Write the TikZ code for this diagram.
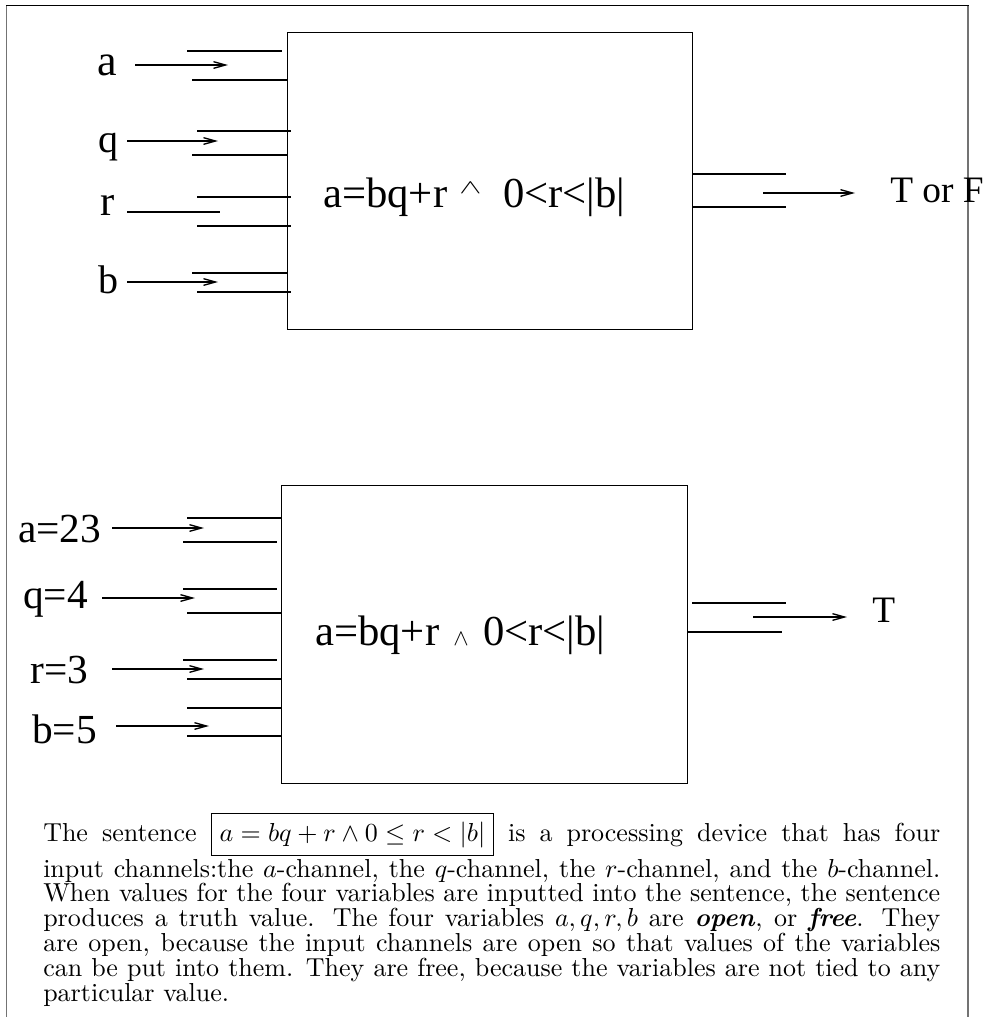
\documentclass[tikz,border=0pt]{standalone}
\usepackage{fontspec}
\newfontfamily\tms{Liberation Serif}
\usepackage{graphicx}
\usetikzlibrary{arrows.meta}
\tikzset{
  chan/.style={line width=1pt},
  arr/.style={line width=1pt,-{Straight Barb[length=9pt,width=5pt]}},
  wire/.style={line width=1pt},
  dev/.style={draw,line width=1.1pt,inner sep=0pt,anchor=north west},
  lbl/.style={inner sep=0pt,anchor=base west,font=\tms\fontsize{#1}{#1}\selectfont},
  lbl/.default=30,
  wedgesym/.style={inner sep=0pt,anchor=base west,font=\fontsize{#1}{#1}\selectfont},
}
\begin{document}
\begin{tikzpicture}[x=0.75pt,y=-0.75pt]
\useasboundingbox (0,0) rectangle (985,1017);
% outer frame
\draw[line width=0.8pt,black!55] (6.5,1017) -- (6.5,5.5);
\draw[line width=0.8pt,black!55] (968,1017) -- (968,5.5);
\draw[line width=1pt] (6,5.5) -- (968.5,5.5);

% ---------- top device ----------
\node[dev,minimum width=303.75pt,minimum height=222.75pt] (dev1) at (287,32) {};
\node[lbl=32] (f1a) at (323,207) {a=bq+r};
\node[wedgesym=25] (f1w) at (459,193) {\scalebox{1}[0.6]{$\wedge$}};
\node[lbl=32] (f1b) at (503,207) {0<r<|b|};

% input a
\node[lbl=33] (ta) at (97,75) {a};
\coordinate (taS) at (135,65); \coordinate (taE) at (228,65);
\draw[arr] (taS) -- (taE);
\draw[chan] (187,51) -- (282,51);
\draw[chan] (192,80) -- (287,80);
% input q
\node[lbl=30] (tq) at (98,152) {q};
\coordinate (tqS) at (127,141); \coordinate (tqE) at (218,141);
\draw[arr] (tqS) -- (tqE);
\draw[chan] (197,131) -- (291,131);
\draw[chan] (192,155) -- (287,155);
% input r
\node[lbl=32] (tr) at (100,215) {r};
\coordinate (trS) at (127,212); \coordinate (trE) at (220,212);
\draw[wire] (trS) -- (trE);
\draw[chan] (197,197) -- (291,197);
\draw[chan] (197,226) -- (291,226);
% input b
\node[lbl=30] (tb) at (98,293) {b};
\coordinate (tbS) at (127,282); \coordinate (tbE) at (218,282);
\draw[arr] (tbS) -- (tbE);
\draw[chan] (192,273) -- (287,273);
\draw[chan] (197,292) -- (291,292);
% output
\draw[chan] (692,174) -- (786,174);
\draw[chan] (692,207) -- (786,207);
\coordinate (toS) at (763,193); \coordinate (toE) at (855,193);
\draw[arr] (toS) -- (toE);
\node[lbl=28] (tout) at (890,202) {T or F};

% ---------- bottom device ----------
\node[dev,minimum width=304.5pt,minimum height=223.5pt] (dev2) at (281,485) {};
\node[lbl=32] (f2a) at (315,645) {a=bq+r};
\node[wedgesym=18] (f2w) at (453,645) {$\wedge$};
\node[lbl=32] (f2b) at (483,645) {0<r<|b|};

% input a=23
\node[lbl=31] (ba) at (18,542) {a=23};
\coordinate (baS) at (112,528); \coordinate (baE) at (204,528);
\draw[arr] (baS) -- (baE);
\draw[chan] (187,518) -- (281,518);
\draw[chan] (183,542) -- (277,542);
% input q=4
\node[lbl=31] (bq) at (23,608) {q=4};
\coordinate (bqS) at (102,598); \coordinate (bqE) at (195,598);
\draw[arr] (bqS) -- (bqE);
\draw[chan] (183,589) -- (277,589);
\draw[chan] (187,613) -- (281,613);
% input r=3
\node[lbl=31] (br) at (30,683) {r=3};
\coordinate (brS) at (112,669); \coordinate (brE) at (204,669);
\draw[arr] (brS) -- (brE);
\draw[chan] (183,660) -- (277,660);
\draw[chan] (187,679) -- (281,679);
% input b=5
\node[lbl=31] (bb) at (32,743) {b=5};
\coordinate (bbS) at (116,726); \coordinate (bbE) at (209,726);
\draw[arr] (bbS) -- (bbE);
\draw[chan] (187,708) -- (281,708);
\draw[chan] (187,736) -- (281,736);
% output
\draw[chan] (692,603) -- (786,603);
\draw[chan] (687,632) -- (782,632);
\coordinate (boS) at (753,617); \coordinate (boE) at (847,617);
\draw[arr] (boS) -- (boE);
\node[lbl=28] (bout) at (872,622) {T};

% ---------- paragraph ----------
\node[inner sep=0pt,anchor=base west] (para) at (43,841) {\scalebox{1.95}{\parbox[t]{345pt}{\fontsize{10}{9.55}\selectfont
The sentence \fbox{$a = bq + r \wedge 0 \le r < |b|$} is a processing device that has four\linebreak
input channels:the $a$-channel, the $q$-channel, the $r$-channel, and the $b$-channel.\linebreak
When values for the four variables are inputted into the sentence, the sentence\linebreak
produces a truth value. The four variables $a, q, r, b$ are \textbf{\textit{open}}, or \textbf{\textit{free}}. They\linebreak
are open, because the input channels are open so that values of the variables\linebreak
can be put into them. They are free, because the variables are not tied to any\linebreak
particular value.}}};
\end{tikzpicture}
\end{document}
